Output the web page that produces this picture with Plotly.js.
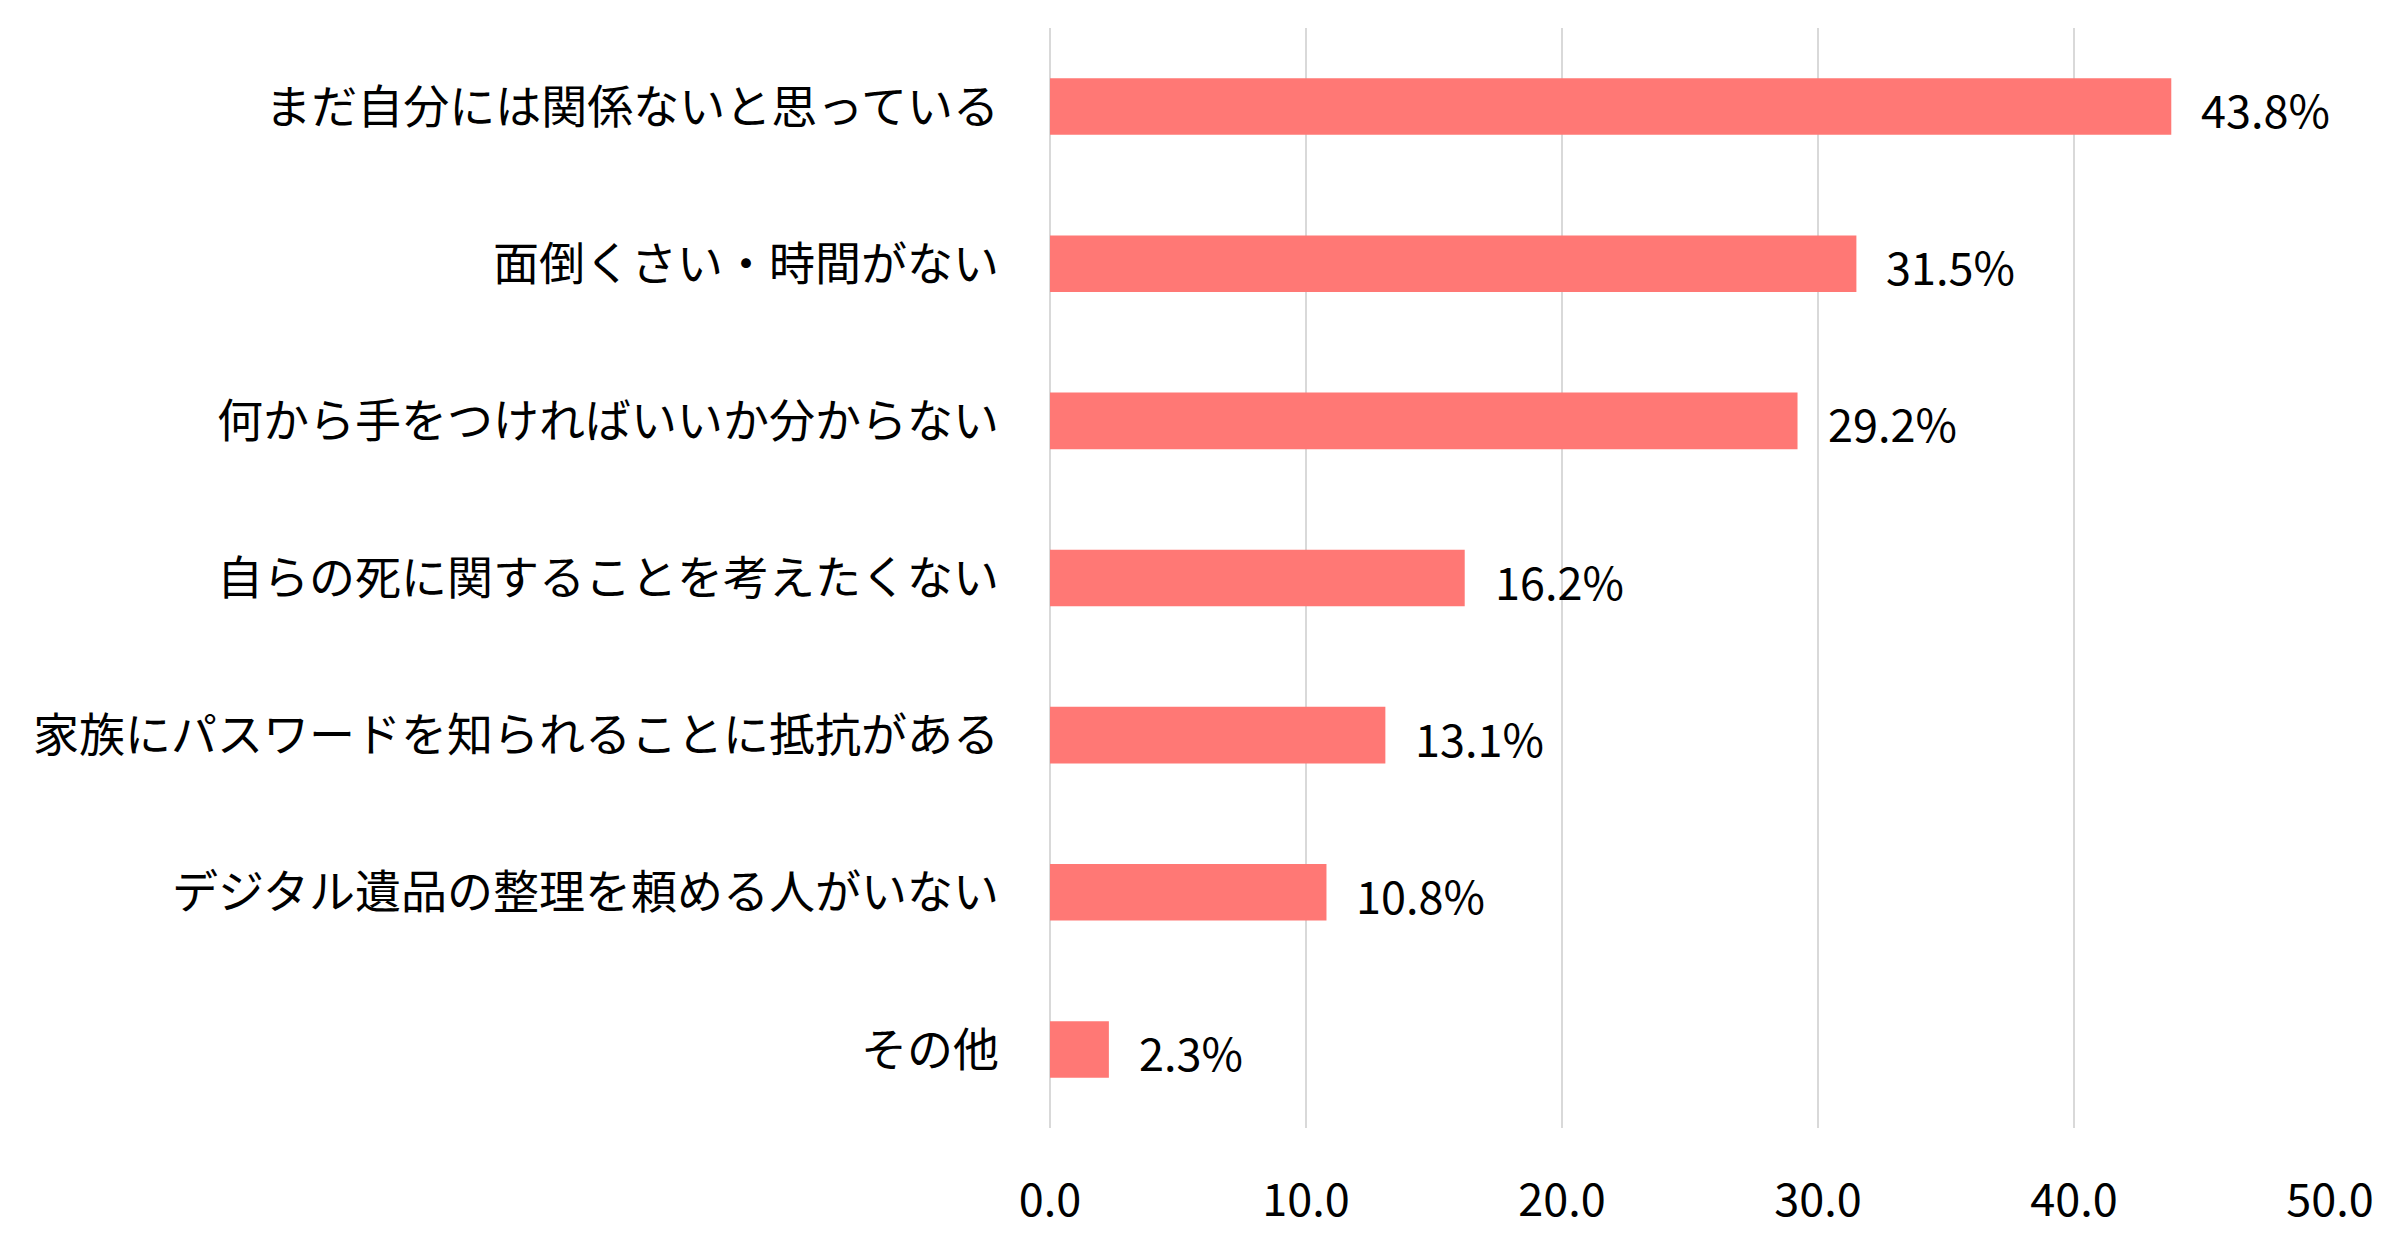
<!DOCTYPE html>
<html>
<head>
<meta charset="utf-8">
<script src="https://cdn.plot.ly/plotly-3.0.1.min.js"></script>
<style>html,body{margin:0;padding:0;background:#fff;}#chart{width:2403px;height:1237px;}</style>
</head>
<body>
<div id="chart"></div>
<script>
const categories = [
  "まだ自分には関係ないと思っている",
  "面倒くさい・時間がない",
  "何から手をつければいいか分からない",
  "自らの死に関することを考えたくない",
  "家族にパスワードを知られることに抵抗がある",
  "デジタル遺品の整理を頼める人がいない",
  "その他"
];
const values = [43.8, 31.5, 29.2, 16.2, 13.1, 10.8, 2.3];
const valueLabels = ["43.8%", "31.5%", "29.2%", "16.2%", "13.1%", "10.8%", "2.3%"];
const xTickValues = [0, 10, 20, 30, 40, 50];
const xTickLabels = ["0.0", "10.0", "20.0", "30.0", "40.0", "50.0"];

const FONT = '"Noto Sans CJK JP", "Noto Sans", sans-serif';

const trace = {
  type: 'bar',
  orientation: 'h',
  x: values,
  y: categories,
  marker: {color: '#FF7875'},
  hoverinfo: 'skip'
};

const annotations = values.map((v, i) => ({
  x: v, y: categories[i], xref: 'x', yref: 'y',
  text: valueLabels[i], showarrow: false,
  xanchor: 'left', yanchor: 'middle', xshift: 28, yshift: -2,
  font: {family: FONT, size: 45, color: '#000'}
}));

const layout = {
  width: 2403, height: 1237,
  margin: {l: 1050, r: 73, t: 28, b: 109},
  paper_bgcolor: '#fff', plot_bgcolor: '#fff',
  showlegend: false,
  bargap: 0.64,
  font: {family: FONT, size: 45, color: '#000'},
  xaxis: {
    range: [0, 50],
    tickvals: xTickValues,
    ticktext: xTickLabels,
    showgrid: true, gridcolor: '#d9d9d9', gridwidth: 2,
    zeroline: true, zerolinecolor: '#d9d9d9', zerolinewidth: 2,
    showline: false, ticks: '',
    ticklabelstandoff: 42,
    tickfont: {family: FONT, size: 45, color: '#000'},
    fixedrange: true
  },
  yaxis: {
    type: 'category',
    autorange: 'reversed',
    showgrid: false, zeroline: false, showline: false, ticks: '',
    ticklabelstandoff: 50,
    tickfont: {family: FONT, size: 46, color: '#000'},
    fixedrange: true
  },
  annotations: annotations
};

Plotly.newPlot('chart', [trace], layout, {displayModeBar: false, staticPlot: true});
</script>
</body>
</html>
